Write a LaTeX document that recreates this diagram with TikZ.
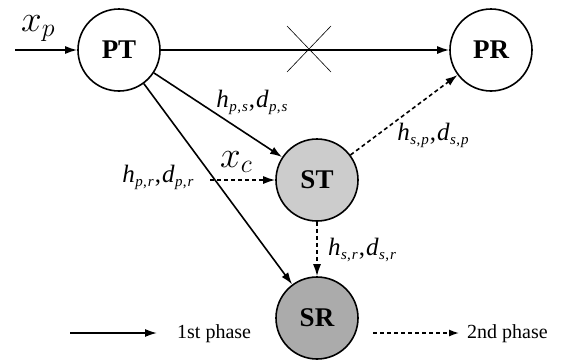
\RequirePackage{fix-cm}
\documentclass[tikz,border=0pt]{standalone}
\usepackage{fontspec}
\setmainfont{Liberation Serif}
\usetikzlibrary{arrows.meta}
\newcommand{\chl}[3]{\textit{#1}\kern0.5pt\raisebox{-0.4ex}{\fontsize{15}{15}\selectfont\textit{#2}\kern0.3pt,\kern1pt\textit{#3}}}
\begin{document}
\begin{tikzpicture}[x=1pt,y=-1pt,
  nd/.style={circle,draw,line width=1.6pt,minimum size=82pt,inner sep=0pt,font=\fontsize{27}{27}\selectfont\bfseries},
  ph1/.style={line width=1.6pt,-{Latex[length=12pt,width=8pt]}},
  ph2/.style={line width=1.6pt,dash pattern=on 4pt off 3pt,-{Latex[length=12pt,width=8pt]}},
  lbl/.style={font=\fontsize{25}{25}\selectfont,inner sep=0pt,anchor=base},
  big/.style={font=\fontsize{37}{37}\selectfont,inner sep=0pt,anchor=base west},
  leg/.style={font=\fontsize{20}{20}\selectfont,inner sep=0pt,anchor=west}]
\useasboundingbox (0,0) rectangle (561,362);
\node[nd] (PT) at (119,50) {PT};
\node[nd] (PR) at (491,50) {PR};
\node[nd,fill=black!20] (ST) at (317,180) {ST};
\node[nd,fill=black!33] (SR) at (317,318) {SR};
\coordinate (xin) at (15,50);
\coordinate (xcin) at (210,180);
\draw[ph1] (xin) -- (PT);
\node[big] (xp) at (21,31) {$x_p$};
\draw[ph1] (PT) -- (PR);
\coordinate (xa) at (287,26);
\coordinate (xb) at (331,72);
\coordinate (xc2) at (331,26);
\coordinate (xd) at (287,72);
\draw[line width=0.6pt] (xa) -- (xb) (xc2) -- (xd);
\draw[ph1] (PT) -- (ST);
\draw[ph1] (PT) -- (SR);
\draw[ph2] (xcin) -- (ST);
\node[big] (xc) at (220,167) {$x_c$};
\draw[ph2] (ST) -- (PR);
\draw[ph2] (ST) -- (SR);
\node[lbl] (lps) at (252,107) {\chl{h}{p}{s}\kern1pt,\kern1pt\chl{d}{p}{s}};
\node[lbl] (lpr) at (158,182) {\chl{h}{p}{r}\kern1pt,\kern1pt\chl{d}{p}{r}};
\node[lbl] (lsp) at (433,140) {\chl{h}{s}{p}\kern1pt,\kern1pt\chl{d}{s}{p}};
\node[lbl] (lsr) at (362,255) {\chl{h}{s}{r}\kern1pt,\kern1pt\chl{d}{s}{r}};
\coordinate (l1a) at (70,333);
\coordinate (l1b) at (157,333);
\draw[ph1] (l1a) -- (l1b);
\node[leg] (t1) at (177,334) {1st phase};
\coordinate (l2a) at (373,333);
\coordinate (l2b) at (459,333);
\draw[line width=1.4pt,dash pattern=on 4pt off 3pt,-{Latex[length=10pt,width=7pt]}] (l2a) -- (l2b);
\node[leg] (t2) at (467,334) {2nd phase};
\end{tikzpicture}
\end{document}
